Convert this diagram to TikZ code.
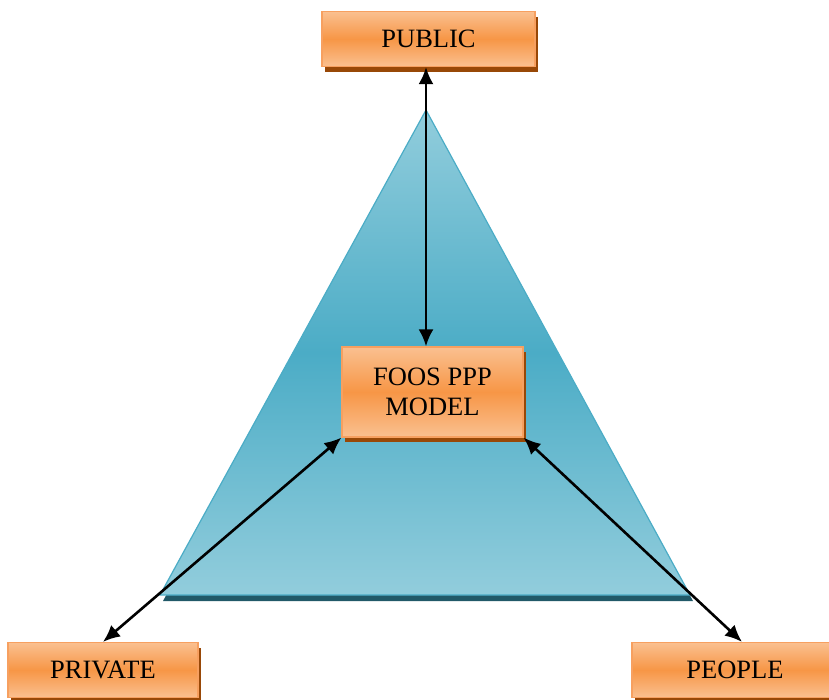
\documentclass[tikz,border=0pt]{standalone}
\usepackage{fontspec}
\setmainfont{Liberation Serif}
\usetikzlibrary{arrows.meta,shadows}
\definecolor{orangeLight}{HTML}{FAC090}
\definecolor{orangeMid}{HTML}{F79646}
\definecolor{orangeEdge}{HTML}{F7A060}
\definecolor{orangeShadow}{HTML}{984807}
\definecolor{tealLight}{HTML}{92CDDC}
\definecolor{tealMid}{HTML}{4BACC6}
\definecolor{tealShadow}{HTML}{215968}
\tikzset{
  actor/.style={draw=orangeEdge, line width=1.2pt,
    top color=orangeLight, bottom color=orangeLight, middle color=orangeMid,
    minimum height=55, inner sep=0pt, align=center,
    font=\fontsize{26.5}{30}\selectfont,
    drop shadow={shadow xshift=3pt, shadow yshift=-5pt, fill=orangeShadow, opacity=1}},
  link/.style={line width=2.6pt, {Latex[length=17pt,width=15pt]}-{Latex[length=17pt,width=15pt]}}
}
\begin{document}
\begin{tikzpicture}[x=1pt,y=-1pt]
  \useasboundingbox (0,0) rectangle (829,699);
  \clip (0,0) rectangle (829,699);
  % triangle with its shadow
  \coordinate (apex) at (426,110);
  \coordinate (bl) at (160,595);
  \coordinate (br) at (690,595);
  \fill[tealShadow] ([shift={(3,6)}]bl) -- ([shift={(3,6)}]br) -- ([shift={(3,6)}]apex) -- cycle;
  \shade[top color=tealLight, bottom color=tealLight, middle color=tealMid, draw=tealMid, line width=1.2pt]
    (apex) -- (br) -- (bl) -- cycle;
  % boxes
  \node[actor, minimum width=213] (public) at (428.5,39) {PUBLIC};
  \node[actor, minimum width=181, minimum height=90] (foos) at (432.5,392) {FOOS PPP\\MODEL};
  \node[actor, minimum width=190] (private) at (103,670) {PRIVATE};
  \node[actor, minimum width=206] (people) at (735,670) {PEOPLE};
  % connectors
  \draw[link] (apex |- public.south) -- (apex |- foos.north);
  \draw[link] (foos.south west) -- (private.north);
  \draw[link] (foos.south east) -- ([xshift=7pt]people.north);
\end{tikzpicture}
\end{document}
